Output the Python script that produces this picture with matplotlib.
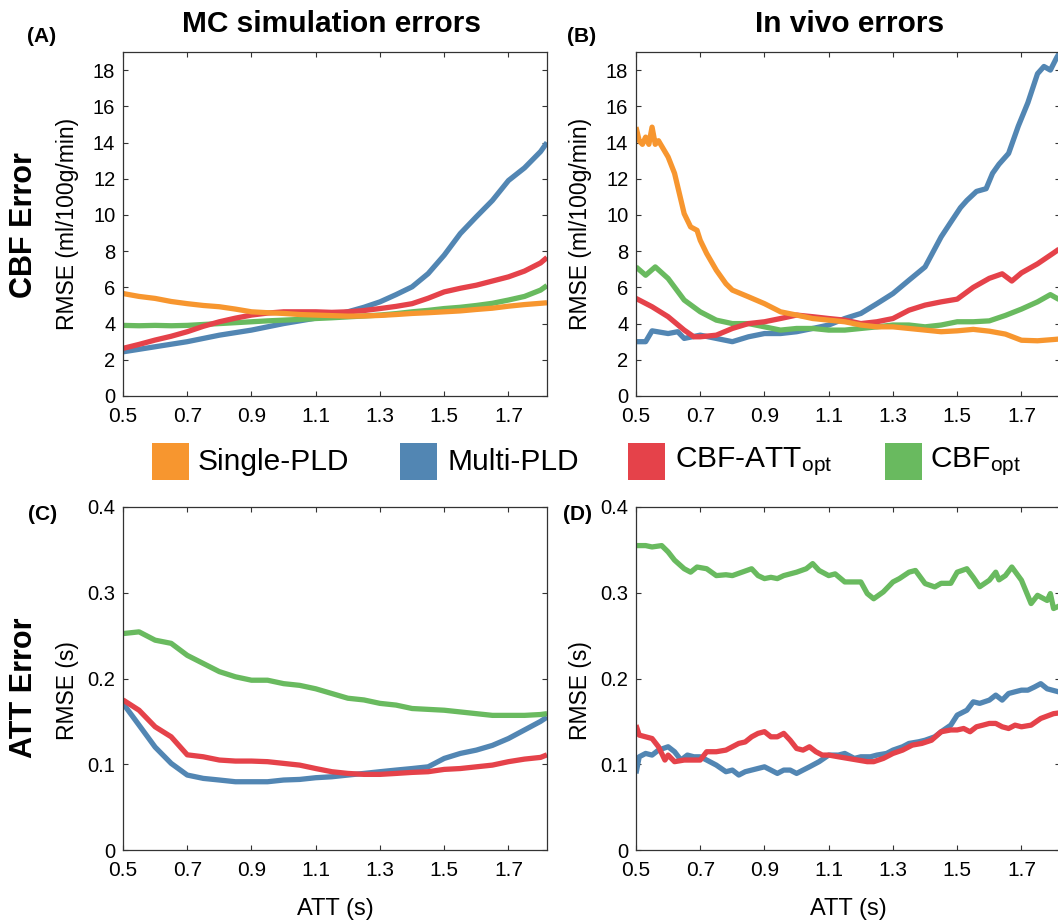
import matplotlib
matplotlib.use('Agg')
from matplotlib import pyplot as plt
from matplotlib.patches import Rectangle

plt.rcParams['font.family'] = ['Liberation Sans', 'DejaVu Sans']
plt.rcParams['mathtext.fontset'] = 'custom'
plt.rcParams['mathtext.rm'] = 'Liberation Sans'
plt.rcParams['mathtext.default'] = 'regular'

# colours / legend
names = ['Single-PLD', 'Multi-PLD', 'CBF-ATT$_{opt}$', 'CBF$_{opt}$']
colors = ['#F7962F', '#5286B3', '#E5424A', '#69BA5F']

# ---- (A) MC simulation, CBF error ----
att_grid = [0.5, 0.55, 0.6, 0.65, 0.7, 0.75, 0.8, 0.85, 0.9, 0.95, 1.0, 1.05, 1.1, 1.15,
            1.2, 1.25, 1.3, 1.35, 1.4, 1.45, 1.5, 1.55, 1.6, 1.65, 1.7, 1.75, 1.8, 1.82]
a_single = [5.66, 5.5, 5.39, 5.22, 5.1, 5.0, 4.93, 4.8, 4.65, 4.6, 4.56, 4.5, 4.47, 4.44,
            4.41, 4.42, 4.45, 4.5, 4.56, 4.6, 4.65, 4.7, 4.78, 4.85, 4.96, 5.05, 5.12, 5.15]
a_multi = [2.44, 2.58, 2.72, 2.86, 3.0, 3.18, 3.36, 3.5, 3.64, 3.82, 4.0, 4.15, 4.3, 4.45,
           4.65, 4.9, 5.2, 5.6, 6.03, 6.76, 7.78, 8.97, 9.9, 10.8, 11.9, 12.6, 13.5, 14.0]
a_cbfatt = [2.63, 2.85, 3.09, 3.3, 3.55, 3.85, 4.1, 4.3, 4.47, 4.58, 4.65, 4.65, 4.65, 4.62,
            4.65, 4.72, 4.83, 4.95, 5.1, 5.4, 5.75, 5.95, 6.12, 6.35, 6.58, 6.9, 7.35, 7.65]
a_cbf = [3.9, 3.88, 3.9, 3.88, 3.9, 3.95, 4.0, 4.05, 4.1, 4.15, 4.19, 4.23, 4.28, 4.32,
         4.37, 4.42, 4.47, 4.55, 4.65, 4.73, 4.83, 4.9, 5.0, 5.12, 5.3, 5.5, 5.85, 6.1]

# ---- (B) in vivo, CBF error ----
b_single_x = [0.5, 0.51, 0.52, 0.53, 0.54, 0.55, 0.56, 0.57, 0.6, 0.62, 0.65, 0.67, 0.69, 0.7,
              0.72, 0.75, 0.78, 0.8, 0.85, 0.9, 0.95, 1.0, 1.05, 1.1, 1.15, 1.2, 1.25, 1.3,
              1.35, 1.4, 1.45, 1.5, 1.55, 1.6, 1.65, 1.7, 1.75, 1.8, 1.82]
b_single = [14.85, 14.1, 13.9, 14.3, 13.9, 14.85, 13.9, 14.1, 13.2, 12.3, 10.07, 9.34, 9.15, 8.6,
            7.87, 6.95, 6.2, 5.85, 5.48, 5.1, 4.65, 4.47, 4.28, 4.19, 4.1, 3.92, 3.82, 3.82,
            3.73, 3.64, 3.55, 3.6, 3.68, 3.58, 3.42, 3.08, 3.05, 3.12, 3.15]
b_multi_x = [0.5, 0.53, 0.55, 0.6, 0.63, 0.65, 0.7, 0.75, 0.8, 0.85, 0.9, 0.95, 1.0, 1.05,
             1.1, 1.15, 1.2, 1.25, 1.3, 1.35, 1.4, 1.45, 1.48, 1.51, 1.53, 1.56, 1.59, 1.61,
             1.63, 1.66, 1.69, 1.72, 1.75, 1.77, 1.79, 1.81, 1.82]
b_multi = [3.0, 3.0, 3.6, 3.45, 3.55, 3.18, 3.36, 3.18, 3.0, 3.27, 3.45, 3.45, 3.55, 3.73,
           3.92, 4.28, 4.56, 5.1, 5.66, 6.4, 7.13, 8.79, 9.6, 10.4, 10.8, 11.3, 11.45, 12.3,
           12.8, 13.4, 14.9, 16.2, 17.8, 18.2, 18.0, 18.7, 19.0]
b_cbfatt_x = [0.5, 0.55, 0.6, 0.65, 0.68, 0.7, 0.75, 0.8, 0.85, 0.9, 0.95, 1.0, 1.05, 1.1,
              1.15, 1.2, 1.25, 1.3, 1.35, 1.4, 1.45, 1.5, 1.55, 1.6, 1.64, 1.67, 1.7, 1.75,
              1.8, 1.82]
b_cbfatt = [5.39, 4.93, 4.38, 3.64, 3.27, 3.27, 3.36, 3.73, 4.0, 4.1, 4.28, 4.47, 4.38, 4.28,
            4.19, 4.0, 4.1, 4.28, 4.74, 5.02, 5.2, 5.35, 6.0, 6.5, 6.75, 6.35, 6.8, 7.3,
            7.9, 8.15]
b_cbf_x = [0.5, 0.53, 0.56, 0.6, 0.65, 0.7, 0.75, 0.8, 0.85, 0.9, 0.95, 1.0, 1.05, 1.1,
           1.15, 1.2, 1.25, 1.3, 1.35, 1.4, 1.45, 1.5, 1.55, 1.6, 1.65, 1.7, 1.75, 1.79, 1.82]
b_cbf = [7.13, 6.67, 7.13, 6.49, 5.3, 4.65, 4.19, 4.0, 4.0, 3.82, 3.64, 3.73, 3.73, 3.64,
         3.64, 3.73, 3.82, 3.92, 3.92, 3.82, 3.92, 4.1, 4.1, 4.15, 4.45, 4.8, 5.2, 5.6, 5.3]

# ---- (C) MC simulation, ATT error ----
c_multi = [0.171, 0.1456, 0.12, 0.101, 0.0874, 0.0835, 0.0816, 0.0796, 0.0796, 0.0796,
           0.0816, 0.0823, 0.0843, 0.0854, 0.0874, 0.0893, 0.0913, 0.0932, 0.095, 0.097,
           0.1068, 0.1126, 0.1165, 0.122, 0.130, 0.140, 0.150, 0.155]
c_cbfatt = [0.175, 0.163, 0.1437, 0.132, 0.111, 0.1087, 0.1049, 0.1037, 0.1037, 0.103,
            0.101, 0.099, 0.095, 0.0913, 0.0893, 0.0882, 0.0882, 0.0893, 0.0905, 0.0913,
            0.094, 0.095, 0.097, 0.099, 0.103, 0.106, 0.108, 0.111]
c_cbf = [0.2524, 0.2544, 0.2447, 0.241, 0.227, 0.2175, 0.208, 0.202, 0.198, 0.198,
         0.194, 0.192, 0.188, 0.1825, 0.177, 0.175, 0.171, 0.169, 0.165, 0.164,
         0.163, 0.161, 0.159, 0.157, 0.157, 0.157, 0.158, 0.159]

# ---- (D) in vivo, ATT error ----
d_multi_x = [0.5, 0.51, 0.53, 0.55, 0.57, 0.6, 0.62, 0.64, 0.66, 0.68, 0.7, 0.72, 0.75, 0.78,
             0.8, 0.82, 0.84, 0.86, 0.88, 0.9, 0.92, 0.94, 0.96, 0.98, 1.0, 1.02, 1.04, 1.07,
             1.1, 1.13, 1.15, 1.18, 1.2, 1.23, 1.25, 1.28, 1.3, 1.33, 1.35, 1.38, 1.4, 1.43,
             1.45, 1.48, 1.5, 1.53, 1.55, 1.57, 1.6, 1.62, 1.64, 1.66, 1.68, 1.7, 1.72, 1.74,
             1.76, 1.78, 1.8, 1.82]
d_multi = [0.0893, 0.1087, 0.1126, 0.1107, 0.1165, 0.1204, 0.1146, 0.1049, 0.1107, 0.1087,
           0.1087, 0.1049, 0.099, 0.0913, 0.0932, 0.0874, 0.0913, 0.0932, 0.0951, 0.097,
           0.0932, 0.0893, 0.0932, 0.0932, 0.0893, 0.0932, 0.097, 0.103, 0.1107, 0.1107,
           0.1126, 0.1068, 0.1087, 0.1087, 0.1107, 0.1126, 0.1165, 0.1204, 0.1243, 0.1262,
           0.128, 0.132, 0.1379, 0.1456, 0.1573, 0.163, 0.1728, 0.171, 0.1748, 0.1806,
           0.1748, 0.1825, 0.1845, 0.1864, 0.1864, 0.190, 0.194, 0.188, 0.186, 0.184]
d_cbfatt_x = [0.5, 0.51, 0.53, 0.55, 0.57, 0.59, 0.6, 0.62, 0.65, 0.68, 0.7, 0.72, 0.75, 0.78,
              0.8, 0.82, 0.84, 0.86, 0.88, 0.9, 0.92, 0.94, 0.96, 0.98, 1.0, 1.02, 1.04, 1.06,
              1.08, 1.1, 1.13, 1.16, 1.19, 1.22, 1.24, 1.27, 1.3, 1.33, 1.36, 1.39, 1.42, 1.45,
              1.48, 1.5, 1.52, 1.54, 1.56, 1.58, 1.6, 1.62, 1.64, 1.66, 1.68, 1.7, 1.73, 1.76,
              1.8, 1.82]
d_cbfatt = [0.1456, 0.134, 0.132, 0.130, 0.1204, 0.1049, 0.1107, 0.103, 0.1049, 0.1049,
            0.1049, 0.1146, 0.1146, 0.1165, 0.1204, 0.1243, 0.126, 0.132, 0.136, 0.138,
            0.132, 0.132, 0.136, 0.128, 0.1184, 0.1165, 0.1204, 0.1146, 0.1107, 0.1107,
            0.1087, 0.1068, 0.1049, 0.103, 0.103, 0.1068, 0.1126, 0.1165, 0.1223, 0.1243,
            0.128, 0.1379, 0.140, 0.140, 0.1417, 0.1379, 0.1437, 0.1456, 0.1476, 0.1476,
            0.1437, 0.1417, 0.1456, 0.1437, 0.1456, 0.1534, 0.159, 0.16]
d_cbf_x = [0.5, 0.53, 0.55, 0.58, 0.6, 0.62, 0.65, 0.67, 0.69, 0.72, 0.75, 0.78, 0.8, 0.83,
           0.86, 0.88, 0.9, 0.92, 0.94, 0.96, 0.98, 1.0, 1.03, 1.05, 1.07, 1.1, 1.12, 1.15,
           1.18, 1.2, 1.22, 1.24, 1.27, 1.3, 1.32, 1.35, 1.37, 1.4, 1.43, 1.45, 1.48, 1.5,
           1.53, 1.55, 1.57, 1.6, 1.62, 1.63, 1.65, 1.67, 1.7, 1.73, 1.75, 1.78, 1.79, 1.8, 1.82]
d_cbf = [0.355, 0.355, 0.3534, 0.355, 0.3476, 0.338, 0.328, 0.324, 0.330, 0.328, 0.320,
         0.321, 0.320, 0.324, 0.328, 0.320, 0.3165, 0.318, 0.3165, 0.320, 0.322, 0.324,
         0.328, 0.334, 0.326, 0.320, 0.322, 0.3126, 0.3126, 0.3126, 0.299, 0.293, 0.301,
         0.3126, 0.3165, 0.324, 0.326, 0.3107, 0.3068, 0.311, 0.311, 0.324, 0.328, 0.318,
         0.307, 0.3146, 0.324, 0.315, 0.320, 0.330, 0.3146, 0.2874, 0.297, 0.291, 0.299,
         0.2816, 0.285]

x_ticks = [0.5, 0.7, 0.9, 1.1, 1.3, 1.5, 1.7]
cbf_ticks = [0, 2, 4, 6, 8, 10, 12, 14, 16, 18]
att_ticks = [0, 0.1, 0.2, 0.3, 0.4]
att_ticklabels = ['0', '0.1', '0.2', '0.3', '0.4']

W, H = 1058, 923
fig = plt.figure(figsize=(W / 100, H / 100), dpi=100)

def px(x0, y0, x1, y1):
    # pixel box (top-left origin) -> figure fraction rect
    return [x0 / W, 1 - y1 / H, (x1 - x0) / W, (y1 - y0) / H]

axA = fig.add_axes(px(123, 52, 547, 396))
axB = fig.add_axes(px(636, 52, 1060, 396))
axC = fig.add_axes(px(123, 507, 547, 850))
axD = fig.add_axes(px(636, 507, 1060, 850))

lw = 3.8
def line(ax, x, y, c):
    ax.plot(x, y, color=c, lw=lw, solid_joinstyle='round', solid_capstyle='butt')

# draw order: multi, cbf, cbf-att, single
line(axA, att_grid, a_multi, colors[1])
line(axA, att_grid, a_cbf, colors[3])
line(axA, att_grid, a_cbfatt, colors[2])
line(axA, att_grid, a_single, colors[0])

line(axB, b_multi_x, b_multi, colors[1])
line(axB, b_cbf_x, b_cbf, colors[3])
line(axB, b_cbfatt_x, b_cbfatt, colors[2])
line(axB, b_single_x, b_single, colors[0])

line(axC, att_grid, c_multi, colors[1])
line(axC, att_grid, c_cbf, colors[3])
line(axC, att_grid, c_cbfatt, colors[2])

line(axD, d_multi_x, d_multi, colors[1])
line(axD, d_cbf_x, d_cbf, colors[3])
line(axD, d_cbfatt_x, d_cbfatt, colors[2])

for ax in [axA, axB, axC, axD]:
    ax.set_xlim(0.5, 1.82)
    ax.set_xticks(x_ticks)
    ax.set_xticklabels([str(t) for t in x_ticks])
    ax.tick_params(direction='in', top=True, right=True, length=3.5, width=0.8,
                   color='#333333', labelsize=14.5)
    ax.tick_params(axis='x', pad=8, labelsize=15)
    ax.tick_params(axis='y', pad=5.5)
    for s in ax.spines.values():
        s.set_linewidth(0.9)
        s.set_color('#333333')

for ax in [axA, axB]:
    ax.set_ylim(0, 19)
    ax.set_yticks(cbf_ticks)
    ax.set_ylabel('RMSE (ml/100g/min)', fontsize=16.5)
    ax.yaxis.set_label_coords(-0.104, 0.5)

for ax in [axC, axD]:
    ax.set_ylim(0, 0.4)
    ax.set_yticks(att_ticks)
    ax.set_yticklabels(att_ticklabels)
    ax.set_ylabel('RMSE (s)', fontsize=16.5)
    ax.yaxis.set_label_coords(-0.104, 0.465)
    ax.set_xlabel('ATT (s)', fontsize=17)
    ax.xaxis.set_label_coords(0.5, -0.14)

# column titles, panel letters, row labels
fig.text(332 / W, 1 - 32 / H, 'MC simulation errors', fontsize=21.5, fontweight='bold',
         ha='center', va='baseline')
fig.text(850 / W, 1 - 32 / H, 'In vivo errors', fontsize=21.5, fontweight='bold',
         ha='center', va='baseline')
for lab, x, y in [('(A)', 27, 42), ('(B)', 567, 42), ('(C)', 28, 520), ('(D)', 563, 520)]:
    fig.text(x / W, 1 - y / H, lab, fontsize=15, fontweight='bold', ha='left', va='baseline')
fig.text(24 / W, 1 - 225 / H, 'CBF Error', fontsize=22, fontweight='bold', rotation=90,
         ha='center', va='center')
fig.text(24 / W, 1 - 688 / H, 'ATT Error', fontsize=22, fontweight='bold', rotation=90,
         ha='center', va='center')

# legend row
patch_left = [152, 400, 628, 885]
text_left = [198, 448, 675, 930]
for i in range(4):
    fig.add_artist(Rectangle((patch_left[i] / W, 1 - 480 / H), 37 / W, 37 / H,
                             transform=fig.transFigure, facecolor=colors[i], edgecolor='none'))
    fig.text(text_left[i] / W, 1 - 462 / H, names[i], fontsize=21.5, ha='left', va='center')

fig.savefig('out.png', dpi=100)
